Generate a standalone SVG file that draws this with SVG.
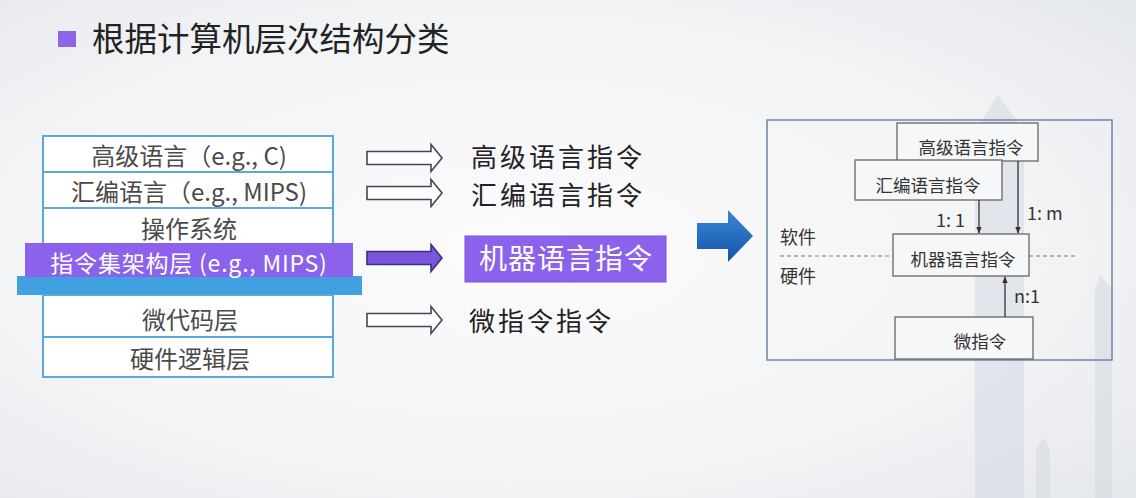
<svg xmlns="http://www.w3.org/2000/svg" width="1136" height="498" viewBox="0 0 1136 498">
<defs>
<radialGradient id="bg" cx="0.45" cy="0.5" r="0.75">
<stop offset="0" stop-color="#fbfbfc"/>
<stop offset="0.6" stop-color="#f3f4f6"/>
<stop offset="1" stop-color="#e4e7eb"/>
</radialGradient>
<linearGradient id="blueArrow" x1="0" y1="0" x2="0" y2="1">
<stop offset="0" stop-color="#3b86d6"/>
<stop offset="1" stop-color="#1454a8"/>
</linearGradient>
<path id="hollow" d="M0,-6.5 H64 V-13.5 L75,0 L64,13.5 V6.5 H0 Z"/>
<marker id="ah" viewBox="0 0 10 10" refX="9" refY="5" markerWidth="7" markerHeight="7" orient="auto" markerUnits="userSpaceOnUse">
<path d="M0,1 L10,5 L0,9 Z" fill="#333"/>
</marker>
<style>
.cjk{font-family:"Noto Sans CJK SC","Noto Sans",sans-serif}
.row{fill:#ffffff;stroke:#5aa9de;stroke-width:2}
.rowt{font-size:24px;fill:#4a4a4a;text-anchor:middle}
.mid{font-size:26px;fill:#222;letter-spacing:3px}
.hol{fill:#ffffff;stroke:#3c4a58;stroke-width:1.6}
.sbox{fill:#f6f7f9;stroke:#666;stroke-width:1.3}
.st{font-size:17.5px;fill:#333;text-anchor:middle}
.lbl{font-size:18px;fill:#333}
.conn{stroke:#333;stroke-width:1.3;fill:none}
.deco{fill:#d3d9e1;opacity:0.55}
</style>
</defs>
<rect x="0" y="0" width="1136" height="498" fill="url(#bg)"/>
<g id="decoration">
<path class="deco" d="M975,498 V130 L998,95 L1024,130 V498 Z"/>
<path class="deco" d="M1095,498 V290 L1100,275 L1112,290 V498 Z"/>
<path class="deco" d="M1036,498 V450 L1043,438 L1050,450 V498 Z"/>
</g>
<g id="title">
<rect x="58" y="31" width="18" height="16" fill="#8d63ea"/>
<text class="cjk" x="92" y="51" font-size="32.5" fill="#222">根据计算机层次结构分类</text>
</g>
<g id="stack">
<g id="row-high"><rect class="row" x="43" y="136" width="290" height="36"/><text class="cjk rowt" x="189" y="165">高级语言（e.g., C)</text></g>
<g id="row-asm"><rect class="row" x="43" y="172" width="290" height="36"/><text class="cjk rowt" x="189" y="201">汇编语言（e.g., MIPS)</text></g>
<g id="row-os"><rect class="row" x="43" y="208" width="290" height="36"/><text class="cjk rowt" x="189" y="238">操作系统</text></g>
<g id="row-isa"><rect x="17" y="276" width="345" height="19" fill="#3fa1e0"/><rect x="25" y="243" width="328" height="34" fill="#8c62ec"/><text class="cjk" x="189" y="272" font-size="23" letter-spacing="0.8" fill="#ffffff" text-anchor="middle">指令集架构层 (e.g., MIPS)</text></g>
<g id="row-micro"><rect class="row" x="43" y="295" width="290" height="42"/><text class="cjk rowt" x="190" y="329" font-size="26">微代码层</text></g>
<g id="row-hw"><rect class="row" x="43" y="337" width="290" height="40"/><text class="cjk rowt" x="190" y="368" font-size="26">硬件逻辑层</text></g>
</g>
<g id="mid-arrows">
<use href="#hollow" class="hol" x="367" y="158"/>
<use href="#hollow" class="hol" x="367" y="193"/>
<use href="#hollow" x="367" y="258" fill="#7a55dc" stroke="#34347a" stroke-width="1.6"/>
<use href="#hollow" class="hol" x="367" y="320"/>
</g>
<g id="mid-labels">
<text class="cjk mid" x="471" y="167">高级语言指令</text>
<text class="cjk mid" x="471" y="205">汇编语言指令</text>
<g id="machine-box"><rect x="465" y="236" width="201" height="46" fill="#8c62ec" stroke="#7a52da" stroke-width="1"/><text class="cjk" x="566" y="269" font-size="28" letter-spacing="1" fill="#ffffff" text-anchor="middle">机器语言指令</text></g>
<text class="cjk mid" x="469" y="331">微指令指令</text>
</g>
<g id="big-arrow">
<path d="M697,223 H728 V210 L753,236 L728,262 V249 H697 Z" fill="url(#blueArrow)"/>
</g>
<g id="right-panel">
<rect x="767" y="120" width="345" height="240" fill="none" stroke="#6d87a6" stroke-width="1.5"/>
<text class="cjk lbl" x="780" y="244">软件</text>
<text class="cjk lbl" x="780" y="283">硬件</text>
<line x1="780" y1="256" x2="893" y2="256" stroke="#777" stroke-width="1.2" stroke-dasharray="4,3"/>
<line x1="1029" y1="256" x2="1078" y2="256" stroke="#777" stroke-width="1.2" stroke-dasharray="4,3"/>
</g>
<g id="node-high"><rect class="sbox" x="897" y="123" width="141" height="38"/><text class="cjk st" x="971" y="154">高级语言指令</text></g>
<g id="node-asm"><rect class="sbox" x="855" y="160" width="147" height="40"/><text class="cjk st" x="928" y="192">汇编语言指令</text></g>
<g id="node-machine"><rect class="sbox" x="893" y="234" width="136" height="42"/><text class="cjk st" x="963" y="266">机器语言指令</text></g>
<g id="node-micro"><rect class="sbox" x="895" y="317" width="138" height="42"/><text class="cjk st" x="980" y="348" font-size="18">微指令</text></g>
<g id="connectors">
<line class="conn" x1="979" y1="200" x2="979" y2="233" marker-end="url(#ah)"/>
<line class="conn" x1="1018" y1="161" x2="1018" y2="233" marker-end="url(#ah)"/>
<line class="conn" x1="1005" y1="317" x2="1005" y2="277" marker-end="url(#ah)"/>
<text class="cjk lbl" x="936" y="227" font-size="16">1: 1</text>
<text class="cjk lbl" x="1027" y="220" font-size="19">1: m</text>
<text class="cjk lbl" x="1014" y="303">n:1</text>
</g>
</svg>
